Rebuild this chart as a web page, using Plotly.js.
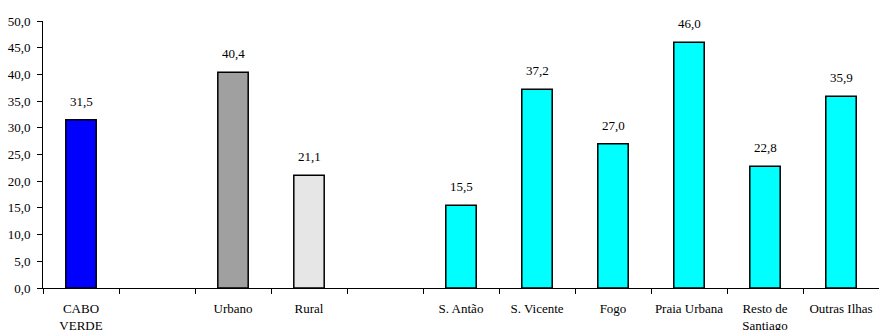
<!DOCTYPE html>
<html>
<head>
<meta charset="utf-8">
<script src="https://cdn.plot.ly/plotly-3.0.1.min.js"></script>
<style>
  html, body { margin: 0; padding: 0; background: #fff; }
  #chart { width: 879px; height: 330px; }
</style>
</head>
<body>
<div id="chart"></div>
<script>
// Regions and islands; the blank entries are spacer slots between groups.
const categories = ['CABO<br>VERDE', ' ', 'Urbano', 'Rural', '  ',
  'S. Antão', 'S. Vicente', 'Fogo', 'Praia Urbana', 'Resto de<br>Santiago', 'Outras Ilhas'];
const values = [31.5, null, 40.4, 21.1, null, 15.5, 37.2, 27.0, 46.0, 22.8, 35.9];
const barColors = ['#0000FF', '#FFFFFF', '#A0A0A0', '#E6E6E6', '#FFFFFF',
  '#00FFFF', '#00FFFF', '#00FFFF', '#00FFFF', '#00FFFF', '#00FFFF'];
const yTicks = [0, 5, 10, 15, 20, 25, 30, 35, 40, 45, 50];

const font = { family: "'Liberation Serif', 'Times New Roman', serif", size: 13, color: '#000' };

const trace = {
  type: 'bar',
  x: categories,
  y: values,
  marker: { color: barColors, line: { color: '#000', width: 1.5 } },
  hoverinfo: 'skip'
};

// value labels above each bar, decimal comma
const labels = [];
categories.forEach((c, i) => {
  if (values[i] === null) return;
  labels.push({
    x: c, y: values[i], xref: 'x', yref: 'y',
    text: values[i].toFixed(1).replace('.', ','),
    showarrow: false, yanchor: 'bottom', yshift: 9,
    font: font
  });
});

const layout = {
  width: 879, height: 330,
  margin: { l: 43, r: 0, t: 21, b: 42 },
  paper_bgcolor: '#fff', plot_bgcolor: '#fff',
  separators: ',.',
  font: font,
  showlegend: false,
  bargap: 0.6,
  xaxis: {
    type: 'category',
    categoryarray: categories,
    tickson: 'boundaries',
    tickangle: 0,
    ticklabelstandoff: 8,
    ticks: 'outside', ticklen: 5, tickcolor: '#000', tickwidth: 1,
    showline: true, linecolor: '#000', linewidth: 1,
    showgrid: false, zeroline: false,
    tickfont: font,
    fixedrange: true
  },
  yaxis: {
    range: [0, 50],
    tickvals: yTicks,
    tickformat: '.1f',
    ticklabelstandoff: 4,
    ticks: 'outside', ticklen: 5, tickcolor: '#000', tickwidth: 1,
    showline: true, linecolor: '#000', linewidth: 1,
    showgrid: false, zeroline: false,
    tickfont: font,
    fixedrange: true
  },
  annotations: labels
};

Plotly.newPlot('chart', [trace], layout, { displayModeBar: false, staticPlot: true });
</script>
</body>
</html>
